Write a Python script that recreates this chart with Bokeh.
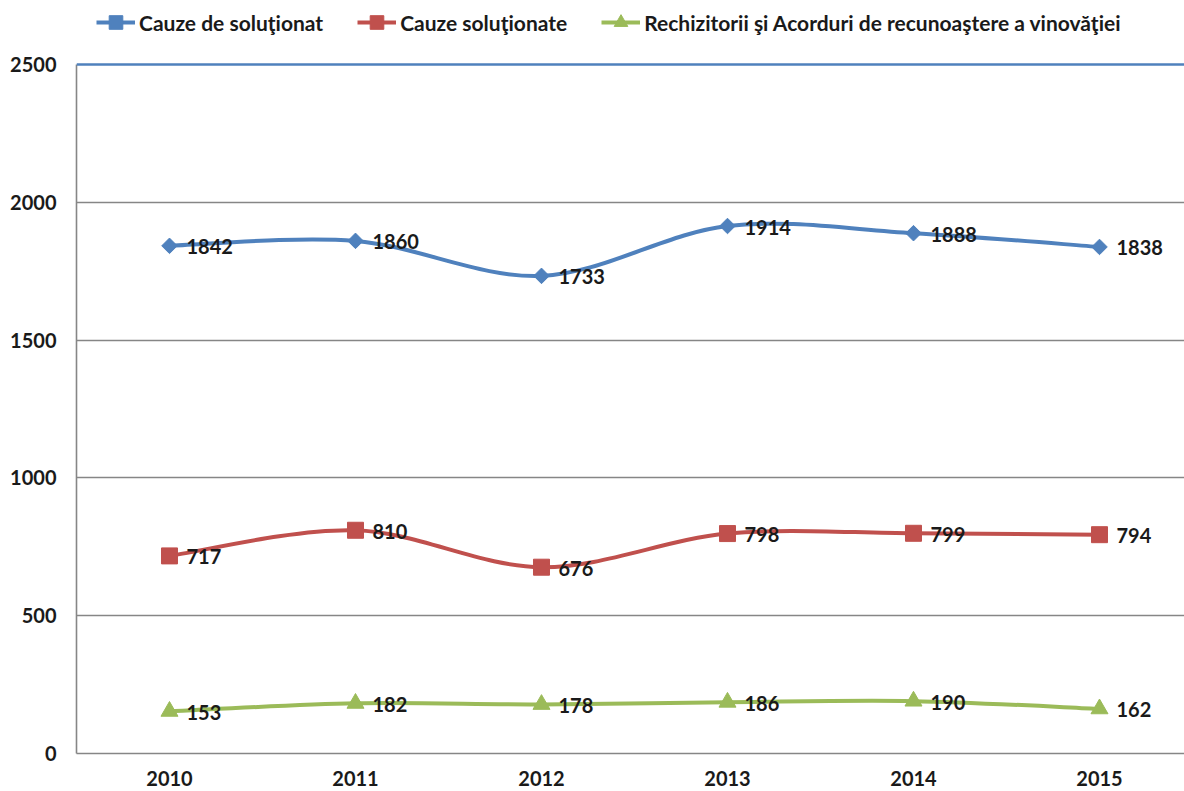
import numpy as np
from bokeh.plotting import figure
from bokeh.models import Range1d, FixedTicker, Span, Legend, LegendItem
from bokeh.core.properties import value
from bokeh.embed import file_html
from bokeh.resources import INLINE

# ---- data ----
years = ["2010", "2011", "2012", "2013", "2014", "2015"]
cauze_de_solutionat = [1842, 1860, 1733, 1914, 1888, 1838]
cauze_solutionate = [717, 810, 676, 798, 799, 794]
rechizitorii = [153, 182, 178, 186, 190, 162]
y_ticks = [0, 500, 1000, 1500, 2000, 2500]
series_names = ["Cauze de soluţionat", "Cauze soluţionate",
                "Rechizitorii şi Acorduri de recunoaştere a vinovăţiei"]

FONT = "Lato"
TXT = "#1a1a1a"
GRID = "#868686"
colors = ["#4F81BD", "#C0504D", "#9BBB59"]
markers = ["square", "square", "triangle"]
angles = [np.pi / 4, 0, 0]
msizes = [11, 16, 17]

# layout: frame spans page y 0..753; value 2500 sits at y=64
FRAME_H = 753
PLOT_H = 689
y_top = y_ticks[-1] * FRAME_H / PLOT_H

xs = np.arange(len(years), dtype=float)

p = figure(frame_width=1108, frame_height=FRAME_H, output_backend="svg",
           toolbar_location=None,
           x_range=Range1d(-0.5, 5.457), y_range=Range1d(0, y_top),
           min_border_left=76, min_border_right=0, min_border_top=0,
           min_border_bottom=38)
p.outline_line_color = None
p.background_fill_color = "white"
p.border_fill_color = "white"

# grid
p.xgrid.grid_line_color = None
p.ygrid.ticker = FixedTicker(ticks=y_ticks[1:-1])
p.ygrid.grid_line_color = GRID
p.ygrid.grid_line_width = 1.6
p.add_layout(Span(location=y_ticks[-1], dimension="width",
                  line_color="#4F81BD", line_width=2.5))

# axes
p.yaxis.ticker = FixedTicker(ticks=y_ticks)
p.yaxis.bounds = (y_ticks[0], y_ticks[-1])
p.xaxis.ticker = FixedTicker(ticks=list(range(len(years))))
p.xaxis.major_label_overrides = {i: y for i, y in enumerate(years)}
for ax in (p.xaxis, p.yaxis):
    ax.major_tick_out = 0
    ax.major_tick_in = 0
    ax.minor_tick_out = 0
    ax.minor_tick_in = 0
    ax.axis_line_color = GRID
    ax.axis_line_width = 1.6
    ax.major_label_text_font = FONT
    ax.major_label_text_font_style = "bold"
    ax.major_label_text_font_size = "20px"
    ax.major_label_text_color = TXT
p.yaxis.major_label_standoff = 20
p.xaxis.major_label_standoff = 17


def bezier_parts(vals):
    y = np.asarray(vals, dtype=float)
    n = len(y)
    xp = np.concatenate([[xs[0]], xs, [xs[-1]]])
    yp = np.concatenate([[y[0]], y, [y[-1]]])
    cx0 = xs[:-1] + (xp[2:n + 1] - xp[0:n - 1]) / 6.0
    cy0 = y[:-1] + (yp[2:n + 1] - yp[0:n - 1]) / 6.0
    cx1 = xs[1:] - (xp[3:n + 2] - xp[1:n]) / 6.0
    cy1 = y[1:] - (yp[3:n + 2] - yp[1:n]) / 6.0
    return dict(x0=xs[:-1], y0=y[:-1], x1=xs[1:], y1=y[1:],
                cx0=cx0, cy0=cy0, cx1=cx1, cy1=cy1)


items = []
for vals, name, col, mk, ang, ms in zip(
        [cauze_de_solutionat, cauze_solutionate, rechizitorii],
        series_names, colors, markers, angles, msizes):
    bz = p.bezier(**bezier_parts(vals), line_color=col, line_width=4)
    sc = p.scatter(x=xs, y=vals, marker=mk, size=ms, angle=ang,
                   fill_color=col, line_color=col)
    p.text(x=xs, y=vals, text=[str(v) for v in vals], x_offset=17, y_offset=1,
           text_baseline="middle", text_align="left",
           text_font=value(FONT), text_font_style="bold",
           text_font_size="20px", text_color=TXT)
    items.append(LegendItem(label=name, renderers=[bz, sc]))

legend = Legend(items=items, orientation="horizontal", location=(20, 714),
                glyph_width=39, glyph_height=34, label_standoff=4, spacing=34,
                padding=0, margin=0, border_line_color=None,
                background_fill_alpha=0,
                label_text_font=FONT, label_text_font_style="bold",
                label_text_font_size="21px", label_text_color=TXT)
p.add_layout(legend, "center")

open("out.html", "w").write(file_html(p, INLINE))
